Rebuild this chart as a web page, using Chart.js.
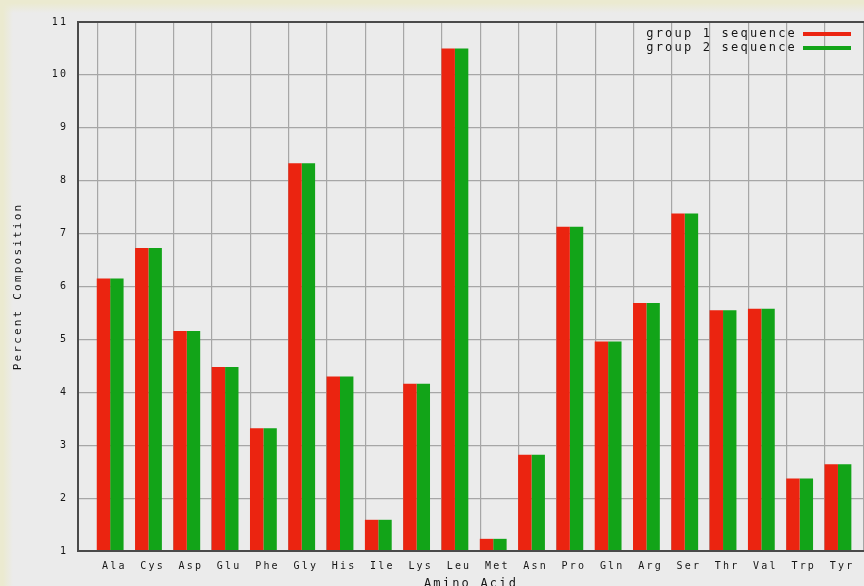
<!DOCTYPE html>
<html>
<head>
<meta charset="utf-8">
<title>Amino acid composition</title>
<script src="https://cdn.jsdelivr.net/npm/chart.js@4/dist/chart.umd.min.js"></script>
<style>
  html, body { margin: 0; padding: 0; overflow: hidden; background: #ebebeb; }
  #wrap { position: relative; width: 864px; height: 586px; overflow: hidden; }
  canvas {
    display: block;
    background:
      linear-gradient(to bottom, #ebead0 0px, #ebead0 3px, rgba(235,235,235,0) 13px),
      linear-gradient(to right, #ebead0 0px, #ebead0 3px, rgba(235,235,235,0) 13px),
      #ebebeb;
  }
</style>
</head>
<body>
<div id="wrap"><canvas id="chart" width="864" height="600"></canvas></div>
<script>
// Amino acids on the x axis
const aminoAcids = ['Ala', 'Cys', 'Asp', 'Glu', 'Phe', 'Gly', 'His', 'Ile', 'Lys', 'Leu',
                    'Met', 'Asn', 'Pro', 'Gln', 'Arg', 'Ser', 'Thr', 'Val', 'Trp', 'Tyr'];

// Percent composition per amino acid
const group1Percent = [6.15, 6.73, 5.16, 4.48, 3.32, 8.33, 4.30, 1.59, 4.16, 10.50,
                       1.23, 2.82, 7.13, 4.96, 5.69, 7.38, 5.55, 5.58, 2.37, 2.64];
const group2Percent = [6.15, 6.73, 5.16, 4.48, 3.32, 8.33, 4.30, 1.59, 4.16, 10.50,
                       1.23, 2.82, 7.13, 4.96, 5.69, 7.38, 5.55, 5.58, 2.37, 2.64];

// Series names
const seriesNames = ['group 1 sequence', 'group 2 sequence'];

// Value axis range
const yMin = 1;
const yMax = 11;
const yStep = 1;

const MONO = "'DejaVu Sans Mono', 'Liberation Mono', monospace";
const INK = '#161616';
const RED = '#eb2410';
const GREEN = '#12a418';
const GRID = '#a6a6a6';
const FRAME = '#4a4a4a';
const SPACING = '2.2px';

// index range of the category axis; the grid sits a little right of each bar pair
const X_MIN = -0.84;
const X_MAX = 19.68;
const GRID_SHIFT = 0.16;

// wide, terminal-like lettering for every label
const spacedText = {
  id: 'spacedText',
  beforeUpdate(chart) { chart.ctx.letterSpacing = SPACING; },
  beforeLayout(chart) { chart.ctx.letterSpacing = SPACING; },
  beforeDraw(chart) { chart.ctx.letterSpacing = SPACING; }
};

// key goes in the upper right corner of the plot
const legendCorner = {
  id: 'legendCorner',
  afterLayout(chart) {
    const lg = chart.legend;
    if (!lg) return;
    const right = 853;
    lg.left = right - lg.width;
    lg.right = right;
    lg.top = 26;
    lg.bottom = chart.chartArea.bottom;
    lg.height = lg.bottom - lg.top;
  }
};

const toPoints = (values) => values.map((v, i) => ({ x: i, y: v }));

new Chart(document.getElementById('chart'), {
  type: 'bar',
  data: {
    datasets: [
      {
        label: seriesNames[0],
        data: toPoints(group1Percent),
        backgroundColor: RED,
        borderWidth: 0,
        base: yMin,
        categoryPercentage: 0.7,
        barPercentage: 1.0
      },
      {
        label: seriesNames[1],
        data: toPoints(group2Percent),
        backgroundColor: GREEN,
        borderWidth: 0,
        base: yMin,
        categoryPercentage: 0.7,
        barPercentage: 1.0
      }
    ]
  },
  options: {
    responsive: false,
    animation: false,
    events: [],
    layout: { padding: 0, autoPadding: false },
    plugins: {
      tooltip: { enabled: false },
      legend: {
        position: 'chartArea',
        align: 'start',
        rtl: true,
        labels: {
          font: { family: MONO, size: 12 },
          color: INK,
          boxWidth: 48,
          boxHeight: 4,
          padding: 2
        }
      }
    },
    scales: {
      x: {
        type: 'linear',
        position: 'bottom',
        min: X_MIN,
        max: X_MAX,
        offset: false,
        grid: { display: false, offset: false, drawTicks: false },
        border: { display: true, color: FRAME, width: 2, z: 1 },
        ticks: {
          stepSize: 1,
          includeBounds: false,
          autoSkip: false,
          maxRotation: 0,
          minRotation: 0,
          padding: 9,
          labelOffset: 4.1,
          color: INK,
          font: { family: MONO, size: 10 },
          callback: (v) => (Number.isInteger(v) && aminoAcids[v] !== undefined) ? aminoAcids[v] : ''
        },
        title: {
          display: true,
          text: 'Amino Acid',
          color: INK,
          font: { family: MONO, size: 12 },
          padding: { top: 0, bottom: 8.8 }
        },
        afterFit: (s) => { s.height = 49; }
      },
      x2: {
        type: 'linear',
        position: 'top',
        min: X_MIN - GRID_SHIFT,
        max: X_MAX - GRID_SHIFT,
        offset: false,
        grid: { display: true, color: GRID, lineWidth: 1.2, drawTicks: false },
        border: { display: true, color: FRAME, width: 2, z: 1 },
        ticks: { display: false, stepSize: 1, includeBounds: false },
        afterFit: (s) => { s.height = 22; }
      },
      y: {
        type: 'linear',
        position: 'left',
        min: yMin,
        max: yMax,
        grid: { display: true, color: GRID, lineWidth: 1.2, drawTicks: false },
        border: { display: true, color: FRAME, width: 2, z: 1 },
        ticks: {
          stepSize: yStep,
          padding: 9.8,
          color: INK,
          font: { family: MONO, size: 10 }
        },
        title: {
          display: true,
          text: 'Percent Composition',
          color: INK,
          font: { family: MONO, size: 11 },
          padding: { top: 11.4, bottom: 0 }
        },
        afterFit: (s) => { s.width = 78; }
      }
    }
  },
  plugins: [spacedText, legendCorner]
});
</script>
</body>
</html>
